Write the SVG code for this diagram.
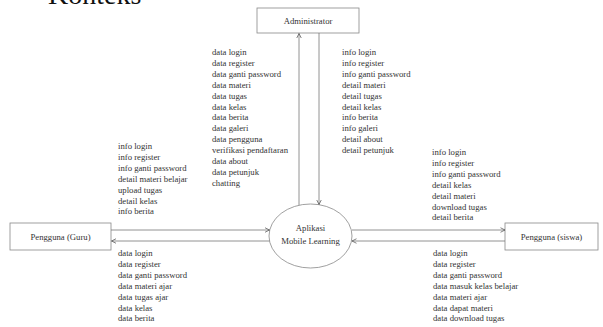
<svg xmlns="http://www.w3.org/2000/svg" width="603" height="327" viewBox="0 0 603 327">
<style>
text{font-family:"Liberation Serif","Times New Roman",serif;font-size:8.7px;fill:#333}
.title{font-size:28px;fill:#111}
.box{fill:#fff;stroke:#888;stroke-width:0.8}
.conn line{stroke:#777;stroke-width:0.8;marker-end:url(#arr)}
.lbl{text-anchor:middle}
</style>
<defs>
<marker id="arr" viewBox="0 0 8 8" refX="7" refY="4" markerWidth="6" markerHeight="6" orient="auto" markerUnits="userSpaceOnUse">
<path d="M1,1 L7,4 L1,7" fill="none" stroke="#555" stroke-width="1"/>
</marker>
</defs>
<rect width="603" height="327" fill="#fff"/>
<text class="title" x="48" y="4">Konteks</text>
<g id="administrator">
<rect class="box" x="257" y="8" width="102" height="25"/>
<text class="lbl" x="308" y="23.5">Administrator</text>
</g>
<g id="aplikasi">
<ellipse class="box" cx="310.5" cy="236" rx="41.5" ry="32"/>
<text class="lbl" x="310.5" y="231">Aplikasi</text>
<text class="lbl" x="310.5" y="244">Mobile Learning</text>
</g>
<g id="guru">
<rect class="box" x="10" y="223" width="101" height="27"/>
<text class="lbl" x="60.5" y="239.5">Pengguna (Guru)</text>
</g>
<g id="siswa">
<rect class="box" x="505" y="223" width="93" height="27"/>
<text class="lbl" x="551.5" y="239.5">Pengguna (siswa)</text>
</g>
<g class="conn" id="connectors">
<line x1="299" y1="205" x2="299" y2="33.5"/>
<line x1="319" y1="33" x2="319" y2="204.5"/>
<line x1="111" y1="230" x2="269.5" y2="230"/>
<line x1="269.5" y1="241" x2="111.5" y2="241"/>
<line x1="352" y1="230" x2="505" y2="230"/>
<line x1="505" y1="241" x2="352" y2="241"/>
</g>
<g id="labels">
<text x="212" y="55"><tspan x="212">data login</tspan><tspan x="212" dy="10.9">data register</tspan><tspan x="212" dy="10.9">data ganti password</tspan><tspan x="212" dy="10.9">data materi</tspan><tspan x="212" dy="10.9">data tugas</tspan><tspan x="212" dy="10.9">data kelas</tspan><tspan x="212" dy="10.9">data berita</tspan><tspan x="212" dy="10.9">data galeri</tspan><tspan x="212" dy="10.9">data pengguna</tspan><tspan x="212" dy="10.9">verifikasi pendaftaran</tspan><tspan x="212" dy="10.9">data about</tspan><tspan x="212" dy="10.9">data petunjuk</tspan><tspan x="212" dy="10.9">chatting</tspan></text>
<text x="342" y="55"><tspan x="342">info login</tspan><tspan x="342" dy="10.9">info register</tspan><tspan x="342" dy="10.9">info ganti password</tspan><tspan x="342" dy="10.9">detail materi</tspan><tspan x="342" dy="10.9">detail tugas</tspan><tspan x="342" dy="10.9">detail kelas</tspan><tspan x="342" dy="10.9">info berita</tspan><tspan x="342" dy="10.9">info galeri</tspan><tspan x="342" dy="10.9">detail about</tspan><tspan x="342" dy="10.9">detail petunjuk</tspan></text>
<text x="118" y="149"><tspan x="118">info login</tspan><tspan x="118" dy="10.9">info register</tspan><tspan x="118" dy="10.9">info ganti password</tspan><tspan x="118" dy="10.9">detail materi belajar</tspan><tspan x="118" dy="10.9">upload tugas</tspan><tspan x="118" dy="10.9">detail kelas</tspan><tspan x="118" dy="10.9">info berita</tspan></text>
<text x="432" y="155"><tspan x="432">info login</tspan><tspan x="432" dy="10.9">info register</tspan><tspan x="432" dy="10.9">info ganti password</tspan><tspan x="432" dy="10.9">detail kelas</tspan><tspan x="432" dy="10.9">detail materi</tspan><tspan x="432" dy="10.9">download tugas</tspan><tspan x="432" dy="10.9">detail berita</tspan></text>
<text x="118" y="256"><tspan x="118">data login</tspan><tspan x="118" dy="10.9">data register</tspan><tspan x="118" dy="10.9">data ganti password</tspan><tspan x="118" dy="10.9">data materi ajar</tspan><tspan x="118" dy="10.9">data tugas ajar</tspan><tspan x="118" dy="10.9">data kelas</tspan><tspan x="118" dy="10.9">data berita</tspan></text>
<text x="433" y="256"><tspan x="433">data login</tspan><tspan x="433" dy="10.9">data register</tspan><tspan x="433" dy="10.9">data ganti password</tspan><tspan x="433" dy="10.9">data masuk kelas belajar</tspan><tspan x="433" dy="10.9">data materi ajar</tspan><tspan x="433" dy="10.9">data dapat materi</tspan><tspan x="433" dy="10.9">data download tugas</tspan></text>
</g>
</svg>
